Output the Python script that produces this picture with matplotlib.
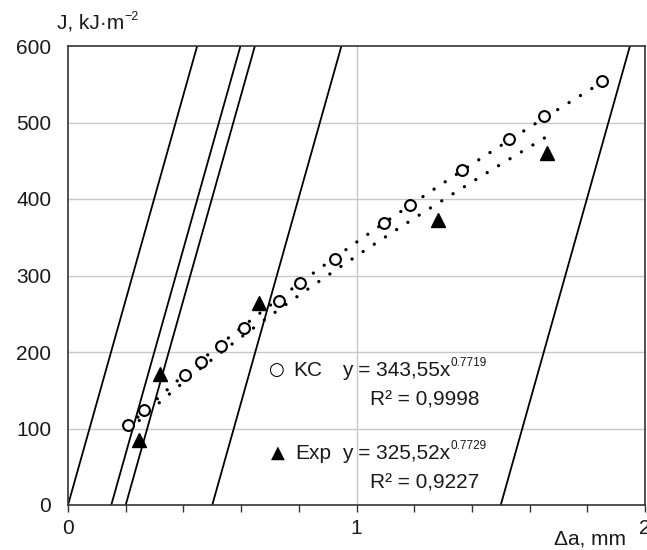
import numpy as np
import matplotlib
matplotlib.use('Agg')
import matplotlib.pyplot as plt

plt.rcParams['font.family'] = ['Liberation Sans', 'DejaVu Sans']

# J-R data (delta a in mm, J in kJ/m2)
kc_da = [0.209, 0.262, 0.404, 0.461, 0.530, 0.61, 0.73, 0.803, 0.927, 1.094, 1.187, 1.366, 1.527, 1.65, 1.85]
kc_J = [105, 124, 170, 187, 208, 232, 267, 290, 322, 368, 392, 438, 478, 509, 554]
exp_da = [0.247, 0.319, 0.661, 1.283, 1.66]
exp_J = [85, 171, 264, 372, 460]

# power-law fits printed on the chart
kc_fit = (343.55, 0.7719)
exp_fit = (325.52, 0.7729)

# blunting line and its offset exclusion lines
blunt_slope = 1340.0
offsets = [0.0, 0.15, 0.2, 0.5, 1.5]

TXT = '#1a1a1a'
FS = 15

fig = plt.figure(figsize=(6.47, 5.5), dpi=100)
ax = fig.add_axes([68 / 647, 1 - 505 / 550, 577 / 647, 459 / 550])

for off in offsets:
    xs = np.array([off, off + 600 / blunt_slope])
    ax.plot(xs, blunt_slope * (xs - off), color='black', lw=1.3, zorder=2)

for (a, b), xs in ((kc_fit, kc_da), (exp_fit, exp_da)):
    xx = np.linspace(min(xs), max(xs), 200)
    ax.plot(xx, a * xx ** b, color='black', lw=2.4, linestyle=(0, (0.01, 4.0)),
            dash_capstyle='round', zorder=3)

ax.plot(kc_da, kc_J, 'o', ms=7.8, mfc='white', mec='black', mew=1.5, zorder=4)
ax.plot(exp_da, exp_J, '^', ms=9.5, color='black', zorder=4)

ax.set_xlim(0, 2)
ax.set_ylim(0, 600)
ax.set_xticks([0, 1, 2])
ax.set_xticks(np.arange(0, 2.01, 0.2), minor=True)
ax.set_yticks(range(0, 601, 100))
ax.tick_params(axis='x', which='both', direction='out', length=5, width=1, color='#333333',
               labelsize=FS, labelcolor=TXT, pad=5)
ax.tick_params(axis='y', length=0, labelsize=FS, labelcolor=TXT, pad=12)
for y in range(100, 600, 100):
    ax.axhline(y, color='#c8c8c8', lw=1, zorder=1)
ax.axvline(1, color='#c8c8c8', lw=1, zorder=1)
for s in ax.spines.values():
    s.set_color('#333333')
    s.set_linewidth(1.2)

# axis titles
fig.text(590 / 647, 1 - 539 / 550, 'Δa, mm', ha='center', va='center', fontsize=FS, color=TXT)
yl = fig.text(57 / 647, 1 - 23 / 550, 'J, kJ·m', ha='left', va='center', fontsize=FS, color=TXT)
ax.annotate('−2', xy=(1.0, 0.8), xycoords=yl, ha='left', va='center', fontsize=9, color=TXT,
            annotation_clip=False)

# equations
def eq(xf, yf, sym, name, coef, power, r2):
    ax.text(xf, yf, sym, transform=ax.transAxes, ha='center', va='center', fontsize=13,
            color='black', family=['DejaVu Sans'])
    ax.text(xf + 0.03, yf, name, transform=ax.transAxes, ha='left', va='center',
            fontsize=FS, color=TXT)
    t = ax.text(0.475, yf, 'y = %sx' % coef, transform=ax.transAxes, ha='left', va='center',
                fontsize=FS, color=TXT)
    ax.annotate(power, xy=(1.0, 0.85), xycoords=t, ha='left', va='center', fontsize=8.5,
                color=TXT)
    ax.text(0.523, yf - 0.065, 'R² = %s' % r2, transform=ax.transAxes, ha='left',
            va='center', fontsize=FS, color=TXT)

eq(0.3605, 0.294, '○', 'KC', '343,55', '0.7719', '0,9998')
eq(0.364, 0.113, '▲', 'Exp', '325,52', '0.7729', '0,9227')

fig.savefig('out.png', dpi=100)
